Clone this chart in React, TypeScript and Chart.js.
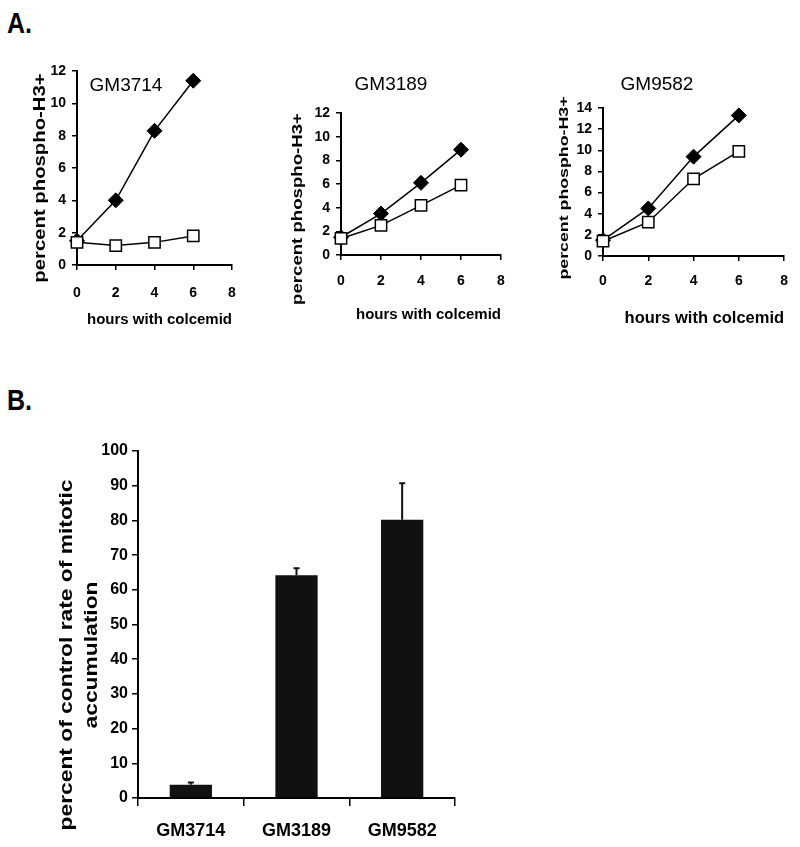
import React, { useEffect, useRef } from 'react';
import { Chart, registerables } from 'chart.js';

Chart.register(...registerables);

// ---------- data ----------
const hours = [0, 2, 4, 6];
const xTickValues = [0, 2, 4, 6, 8];

const gm3714Control = [1.5, 4.0, 8.3, 11.4];
const gm3714Treated = [1.4, 1.2, 1.4, 1.8];
const gm3189Control = [1.5, 3.5, 6.1, 8.9];
const gm3189Treated = [1.4, 2.5, 4.2, 5.9];
const gm9582Control = [1.5, 4.5, 9.4, 13.3];
const gm9582Treated = [1.4, 3.2, 7.3, 9.9];

const cellLines = ['GM3714', 'GM3189', 'GM9582'];
const rateValues = [3.8, 64.2, 80.2];
const rateErrors = [0.7, 2.0, 10.5];

const lineYTitle = 'percent phospho-H3+';
const lineXTitle = 'hours with colcemid';
const barYTitle = ['percent of control rate of mitotic', 'accumulation'];

// ---------- fonts ----------
const SANS = "'Liberation Sans', Arial, sans-serif";

type TextItem = {
  lines: string[];
  x: number;
  y: number;
  font: string;
  lh?: number;
  rotate?: boolean;
  sx?: number;
  align?: CanvasTextAlign;
};

function textPlugin(items: TextItem[]) {
  return {
    id: 'extraText',
    afterDraw(chart: any) {
      const ctx = chart.ctx as CanvasRenderingContext2D;
      items.forEach((it) => {
        ctx.save();
        ctx.translate(it.x, it.y);
        if (it.rotate) ctx.rotate(-Math.PI / 2);
        if (it.sx) ctx.scale(it.sx, 1);
        ctx.font = it.font;
        ctx.fillStyle = '#000';
        ctx.textAlign = it.align || 'center';
        ctx.textBaseline = 'middle';
        it.lines.forEach((l, i) => ctx.fillText(l, 0, i * (it.lh || 0)));
        ctx.restore();
      });
    },
  };
}

const errorBarPlugin = {
  id: 'errorBars',
  afterDatasetsDraw(chart: any) {
    const ctx = chart.ctx as CanvasRenderingContext2D;
    const yScale = chart.scales.y;
    const meta = chart.getDatasetMeta(0);
    ctx.save();
    ctx.strokeStyle = '#111';
    ctx.lineWidth = 2;
    meta.data.forEach((bar: any, i: number) => {
      const top = yScale.getPixelForValue(rateValues[i] + rateErrors[i]);
      ctx.beginPath();
      ctx.moveTo(bar.x, bar.y);
      ctx.lineTo(bar.x, top);
      ctx.moveTo(bar.x - 3, top);
      ctx.lineTo(bar.x + 3, top);
      ctx.stroke();
    });
    ctx.restore();
  },
};

type LineSpec = {
  left: number;
  top: number;
  width: number;
  height: number;
  padTop: number;
  padRight: number;
  yWidth: number;
  xHeight: number;
  yMax: number;
  control: number[];
  treated: number[];
  tickSize: number;
  xTitleSize: number;
  xTitlePad: number;
  xTickPad: number;
  texts: TextItem[];
};

function LinePanel({ spec }: { spec: LineSpec }) {
  const ref = useRef<HTMLCanvasElement>(null);
  useEffect(() => {
    if (!ref.current) return;
    const tickFont = { family: SANS, weight: 'bold' as const, size: spec.tickSize };
    const gridOpts = {
      drawOnChartArea: false,
      drawTicks: true,
      tickLength: 5,
      color: '#000',
      lineWidth: 1.5,
    };
    const chart = new Chart(ref.current, {
      type: 'line',
      data: {
        datasets: [
          {
            data: hours.map((h, i) => ({ x: h, y: spec.treated[i] })),
            borderColor: '#000',
            borderWidth: 1.5,
            pointStyle: 'rect',
            pointRadius: 8,
            pointBackgroundColor: '#fff',
            pointBorderColor: '#000',
            pointBorderWidth: 1.5,
            clip: false,
          },
          {
            data: hours.map((h, i) => ({ x: h, y: spec.control[i] })),
            borderColor: '#000',
            borderWidth: 1.5,
            pointStyle: 'rectRot',
            pointRadius: 7.5,
            pointBackgroundColor: '#000',
            pointBorderColor: '#000',
            pointBorderWidth: 1,
            clip: false,
          },
        ],
      },
      options: {
        animation: false,
        responsive: false,
        maintainAspectRatio: false,
        layout: { padding: { top: spec.padTop, right: spec.padRight, left: 0, bottom: 0 } },
        plugins: { legend: { display: false }, tooltip: { enabled: false } },
        scales: {
          x: {
            type: 'linear',
            min: 0,
            max: 8,
            afterBuildTicks: (s: any) => {
              s.ticks = xTickValues.map((v) => ({ value: v }));
            },
            ticks: { color: '#000', font: tickFont, padding: spec.xTickPad, autoSkip: false, maxRotation: 0 },
            grid: gridOpts,
            border: { color: '#000', width: 2 },
            title: {
              display: true,
              text: lineXTitle,
              align: 'end',
              color: '#000',
              font: { family: SANS, weight: 'bold', size: spec.xTitleSize },
              padding: { top: 0, bottom: spec.xTitlePad },
            },
            afterFit: (s: any) => {
              s.height = spec.xHeight;
            },
          },
          y: {
            min: 0,
            max: spec.yMax,
            ticks: { stepSize: 2, color: '#000', font: tickFont, padding: 6, autoSkip: false },
            grid: gridOpts,
            border: { color: '#000', width: 2 },
            afterFit: (s: any) => {
              s.width = spec.yWidth;
            },
          },
        },
      } as any,
      plugins: [textPlugin(spec.texts)],
    });
    return () => chart.destroy();
  }, [spec]);
  return (
    <canvas
      ref={ref}
      width={spec.width}
      height={spec.height}
      style={{ position: 'absolute', left: spec.left, top: spec.top, width: spec.width, height: spec.height }}
    />
  );
}

function BarPanel() {
  const ref = useRef<HTMLCanvasElement>(null);
  useEffect(() => {
    if (!ref.current) return;
    const gridOpts = {
      drawOnChartArea: false,
      drawTicks: true,
      color: '#000',
      lineWidth: 1.5,
    };
    const chart = new Chart(ref.current, {
      type: 'bar',
      data: {
        labels: cellLines,
        datasets: [
          {
            data: rateValues,
            backgroundColor: '#111',
            borderWidth: 0,
            barPercentage: 0.4,
            categoryPercentage: 1,
          },
        ],
      },
      options: {
        animation: false,
        responsive: false,
        maintainAspectRatio: false,
        layout: { padding: { top: 21, right: 25, left: 0, bottom: 0 } },
        plugins: { legend: { display: false }, tooltip: { enabled: false } },
        scales: {
          x: {
            ticks: { color: '#000', font: { family: SANS, weight: 'bold', size: 18 }, padding: 14, maxRotation: 0 },
            grid: { ...gridOpts, offset: true, tickLength: 8 },
            border: { color: '#000', width: 2 },
            afterFit: (s: any) => {
              s.height = 49;
            },
          },
          y: {
            min: 0,
            max: 100,
            ticks: { stepSize: 10, color: '#000', font: { family: SANS, weight: 'bold', size: 16 }, padding: 4, autoSkip: false },
            grid: { ...gridOpts, tickLength: 6 },
            border: { color: '#000', width: 2 },
            afterFit: (s: any) => {
              s.width = 138;
            },
          },
        },
      } as any,
      plugins: [
        errorBarPlugin,
        textPlugin([
          { lines: barYTitle, x: 67, y: 225, font: `bold 19px ${SANS}`, lh: 25, rotate: true, sx: 1.2 },
        ]),
      ],
    });
    return () => chart.destroy();
  }, []);
  return (
    <canvas
      ref={ref}
      width={480}
      height={417}
      style={{ position: 'absolute', left: 0, top: 430, width: 480, height: 417 }}
    />
  );
}

const panel1: LineSpec = {
  left: 0,
  top: 40,
  width: 260,
  height: 300,
  padTop: 31,
  padRight: 28,
  yWidth: 77,
  xHeight: 75,
  yMax: 12,
  control: gm3714Control,
  treated: gm3714Treated,
  tickSize: 14,
  xTitleSize: 15,
  xTitlePad: 11,
  xTickPad: 15,
  texts: [
    { lines: [cellLines[0]], x: 126, y: 46, font: `19px ${SANS}` },
    { lines: [lineYTitle], x: 41, y: 138, font: `bold 16px ${SANS}`, rotate: true, sx: 1.27 },
  ],
};

const panel2: LineSpec = {
  left: 260,
  top: 40,
  width: 260,
  height: 300,
  padTop: 73,
  padRight: 19,
  yWidth: 81,
  xHeight: 85,
  yMax: 12,
  control: gm3189Control,
  treated: gm3189Treated,
  tickSize: 14,
  xTitleSize: 15,
  xTitlePad: 16,
  xTickPad: 13,
  texts: [
    { lines: [cellLines[1]], x: 131, y: 45, font: `19px ${SANS}` },
    { lines: [lineYTitle], x: 38, y: 169, font: `bold 14px ${SANS}`, rotate: true, sx: 1.33 },
  ],
};

const panel3: LineSpec = {
  left: 520,
  top: 40,
  width: 280,
  height: 300,
  padTop: 68,
  padRight: 11,
  yWidth: 83,
  xHeight: 84,
  yMax: 14,
  control: gm9582Control,
  treated: gm9582Treated,
  tickSize: 14,
  xTitleSize: 16.5,
  xTitlePad: 12,
  xTickPad: 12,
  texts: [
    { lines: [cellLines[2]], x: 137, y: 45, font: `19px ${SANS}` },
    { lines: [lineYTitle], x: 45, y: 148, font: `bold 12px ${SANS}`, rotate: true, sx: 1.48 },
  ],
};

export default function App() {
  const labelStyle: React.CSSProperties = {
    position: 'absolute',
    left: 7,
    fontFamily: SANS,
    fontWeight: 'bold',
    fontSize: 25,
    lineHeight: '25px',
    color: '#000',
    transform: 'scaleY(1.15)',
    transformOrigin: 'left top',
  };
  return (
    <div style={{ position: 'absolute', left: 0, top: 0, width: 800, height: 847, background: '#fff', overflow: 'hidden' }}>
      <div style={{ ...labelStyle, top: 9 }}>A.</div>
      <div style={{ ...labelStyle, top: 386 }}>B.</div>
      <LinePanel spec={panel1} />
      <LinePanel spec={panel2} />
      <LinePanel spec={panel3} />
      <BarPanel />
    </div>
  );
}
